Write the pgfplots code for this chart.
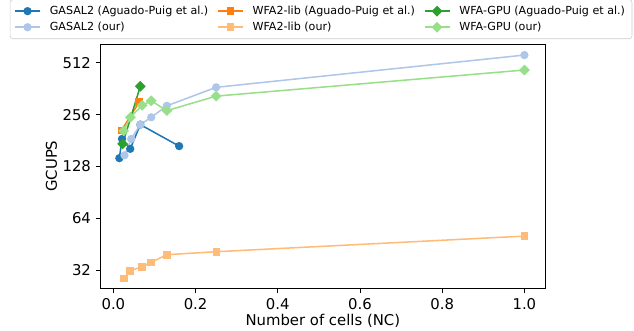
\documentclass[border=0pt]{standalone}
\usepackage{pgfplots}
\pgfplotsset{compat=1.18}
\usepackage{fontspec}
\setmainfont{DejaVu Sans}
\definecolor{c1}{HTML}{1F77B4}
\definecolor{c2}{HTML}{AEC7E8}
\definecolor{c3}{HTML}{FF7F0E}
\definecolor{c4}{HTML}{FFBB78}
\definecolor{c5}{HTML}{2CA02C}
\definecolor{c6}{HTML}{98DF8A}
\begin{document}
\begin{tikzpicture}
\begin{axis}[
  scale only axis,
  width=319.9pt, height=175.9pt,
  xmin=-30900, xmax=1050100,
  ymode=log, log basis y=2,
  ymin=25.06, ymax=658.6,
  xtick={0,200000,400000,600000,800000,1000000},
  xticklabels={0.0,0.2,0.4,0.6,0.8,1.0},
  scaled x ticks=false,
  ytick={32,64,128,256,512},
  yticklabels={32,64,128,256,512},
  minor tick num=0,
  tick align=outside,
  xtick pos=lower, ytick pos=left,
  major tick length=3.5pt,
  tick style={black, line width=0.6pt},
  axis line style={line width=0.6pt},
  /pgf/number format/assume math mode=true,
  ticklabel style={font=\fontsize{10.7}{12}\selectfont},
  label style={font=\fontsize{10.7}{12}\selectfont},
  xlabel={Number of cells (NC)},
  ylabel={GCUPS},
  xlabel style={at={(axis description cs:0.5,-0.085)}, anchor=north},
  ylabel style={at={(axis description cs:-0.087,0.5)}, anchor=south},
  legend columns=3,
  legend cell align=left,
  legend image code/.code={\draw[mark repeat=2,mark phase=2] plot coordinates {(0pt,0pt)(9pt,0pt)(18pt,0pt)};},
  legend style={
    at={(axis description cs:0.496,1.0)}, anchor=south, yshift=3.6pt,
    font=\fontsize{8}{10}\selectfont,
    draw=black!20, rounded corners=2pt,
    inner xsep=3pt, inner ysep=2.5pt,
    /tikz/every odd column/.append style={column sep=4.5pt},
    /tikz/every even column/.append style={column sep=4.3pt},
  },
  every axis plot/.append style={line width=1.1pt},
]
\coordinate (bl) at (rel axis cs:0,0);
\coordinate (tr) at (rel axis cs:1,1);

\addplot[c1, mark=*, mark size=2.4pt] coordinates {
 (14500,143) (21000,185) (41000,162) (65500,224) (160000,168)};
\addlegendentry{GASAL2 (Aguado-Puig et al.)}
\addplot[c3, mark=square*, mark size=2.2pt] coordinates {
 (19500,207) (63000,303)};
\addlegendentry{WFA2-lib (Aguado-Puig et al.)}
\addplot[c5, mark=square*, mark size=2.2pt, mark options={rotate=45}] coordinates {
 (22500,173) (65500,374)};
\addlegendentry{WFA-GPU (Aguado-Puig et al.)}
\addplot[c2, mark=*, mark size=2.4pt] coordinates {
 (27000,148.5) (43500,185) (65500,224) (92000,247) (130000,288) (250000,369) (1000000,568)};
\addlegendentry{GASAL2 (our)}
\addplot[c4, mark=square*, mark size=2.2pt] coordinates {
 (26500,28.6) (40500,31.7) (69000,33.4) (91000,35.4) (130000,39.3) (251000,40.9) (1000000,50.4)};
\addlegendentry{WFA2-lib (our)}
\addplot[c6, mark=square*, mark size=2.2pt, mark options={rotate=45}] coordinates {
 (25000,206) (41500,247) (70000,290) (92000,308) (130000,270) (250000,328) (1000000,465)};
\addlegendentry{WFA-GPU (our)}

\node[font=\fontsize{7}{8}\selectfont, anchor=center] at (axis description cs:0.953,-0.122) {1e6};
\end{axis}
\pgfresetboundingbox
\path ([shift={(-72.5pt,-30.7pt)}]bl) rectangle ([shift={(64.1pt,31.7pt)}]tr);
\end{tikzpicture}
\end{document}
